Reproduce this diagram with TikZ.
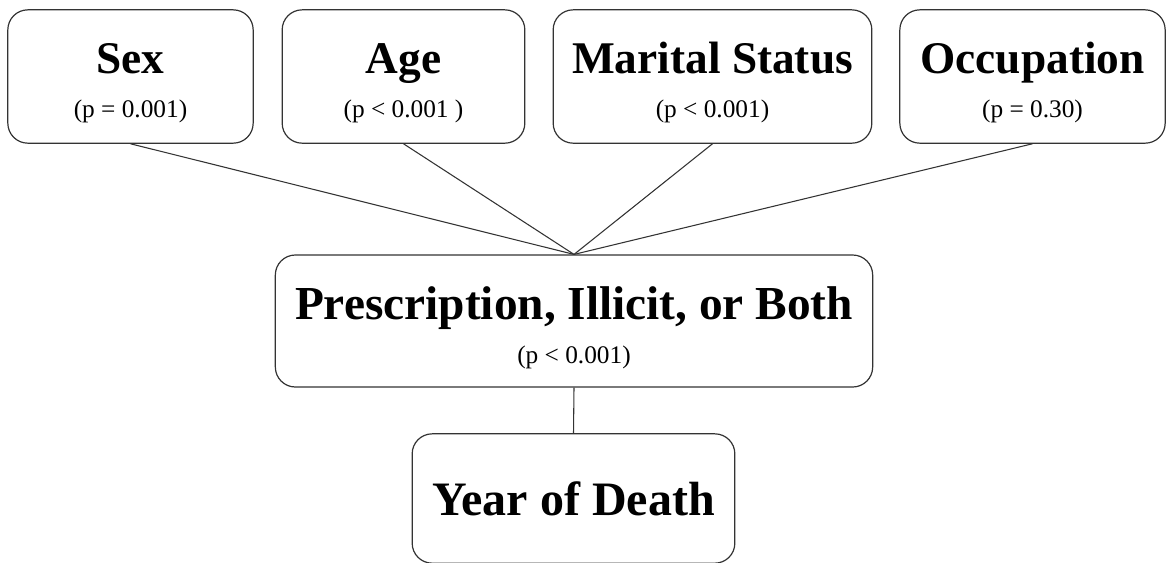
\documentclass[tikz,border=0pt]{standalone}
\usepackage{fontspec}
\setmainfont{Liberation Serif}
\usetikzlibrary{positioning}

\newcommand{\vtitle}[1]{\rule{0pt}{0.97em}#1}
\newcommand{\pval}[1]{{\fontsize{19}{21}\selectfont\mdseries #1}}

\begin{document}
\begin{tikzpicture}[x=0.75pt,y=-0.75pt,
  factor/.style={draw=black!80, line width=0.9pt, rounded corners=15pt,
    align=center, inner sep=0pt, minimum height=100pt,
    font=\fontsize{34}{31}\selectfont\bfseries},
  link/.style={draw=black!80, line width=0.8pt}]
\useasboundingbox (0,0) rectangle (1167,562);

% predictors
\node[factor, minimum width=184pt] (sex) at (130.5,76.5) {\vtitle{Sex}\\[2pt]\pval{(p = 0.001)}};
\node[factor, minimum width=182pt] (age) at (403.5,76.5) {\vtitle{Age}\\[2pt]\pval{(p < 0.001 )}};
\node[factor, minimum width=239pt] (marital) at (712.5,76.5) {\vtitle{Marital Status}\\[2pt]\pval{(p < 0.001)}};
\node[factor, minimum width=199pt] (occup) at (1032.5,76.5) {\vtitle{Occupation}\\[2pt]\pval{(p = 0.30)}};

% drug type
\node[factor, minimum width=448pt, minimum height=99pt, font=\fontsize{35.5}{31}\selectfont\bfseries]
  (drug) at (574,321) {\vtitle{Prescription, Illicit, or Both}\\[2pt]\pval{(p < 0.001)}};

% outcome
\node[factor, minimum width=242pt, minimum height=97pt, font=\fontsize{36}{38}\selectfont\bfseries]
  (year) at (573.5,498.5) {Year of Death};

\foreach \src in {sex,age,marital,occup}
  \draw[link] (\src.south) -- (drug.north);
\draw[link] (drug.south) -- (year.north);
\end{tikzpicture}
\end{document}
